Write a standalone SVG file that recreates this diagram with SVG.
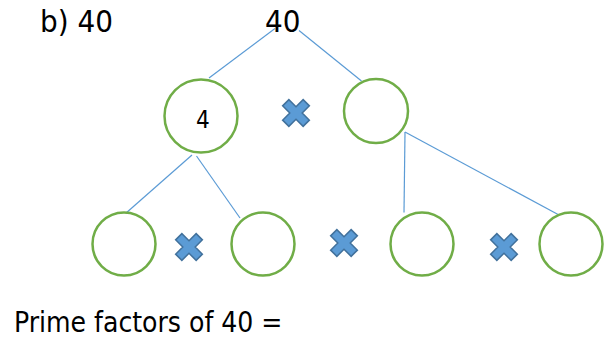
<svg xmlns="http://www.w3.org/2000/svg" width="605" height="339" viewBox="0 0 605 339">
  <style>
    .txt { font-family: "DejaVu Sans Condensed", "DejaVu Sans", sans-serif; fill: #000; }
    .node { fill: #fff; stroke: #70AD47; stroke-width: 2.5; }
    .edge { stroke: #5B9BD5; stroke-width: 1.2; fill: none; }
    .times { fill: #5B9BD5; stroke: #41719C; stroke-width: 1.5; stroke-linejoin: miter; }
  </style>
  <defs>
    <!-- multiplication sign: a plus rotated 45 degrees -->
    <polygon id="mul" transform="rotate(45)" points="-4.4,-14.5 4.4,-14.5 4.4,-4.4 14.5,-4.4 14.5,4.4 4.4,4.4 4.4,14.5 -4.4,14.5 -4.4,4.4 -14.5,4.4 -14.5,-4.4 -4.4,-4.4"/>
  </defs>

  <rect width="605" height="339" fill="#fff"/>

  <text class="txt" x="40" y="32" font-size="31">b) 40</text>

  <g id="connectors">
    <line class="edge" x1="275" y1="28.5" x2="209" y2="78"/>
    <line class="edge" x1="299" y1="30.5" x2="361.5" y2="81"/>
    <line class="edge" x1="192" y1="155" x2="125.5" y2="213.5"/>
    <line class="edge" x1="196.5" y1="156" x2="240" y2="218"/>
    <line class="edge" x1="405" y1="132" x2="404" y2="212.5"/>
    <line class="edge" x1="405" y1="132" x2="559" y2="215"/>
  </g>

  <g id="root">
    <text class="txt" x="265" y="32" font-size="31">40</text>
  </g>

  <g id="n-left">
    <circle class="node" cx="201" cy="116" r="36.5"/>
    <text class="txt" x="196" y="127.5" font-size="24">4</text>
  </g>
  <g id="n-right">
    <circle class="node" cx="376" cy="111" r="32"/>
  </g>
  <g id="n-ll">
    <circle class="node" cx="124" cy="244" r="31.5"/>
  </g>
  <g id="n-lr">
    <circle class="node" cx="263" cy="244" r="31.5"/>
  </g>
  <g id="n-rl">
    <circle class="node" cx="422" cy="244" r="31.5"/>
  </g>
  <g id="n-rr">
    <circle class="node" cx="571" cy="244" r="31.5"/>
  </g>

  <g id="times-signs">
    <use href="#mul" class="times" x="296" y="113"/>
    <use href="#mul" class="times" x="189" y="247"/>
    <use href="#mul" class="times" x="344" y="243"/>
    <use href="#mul" class="times" x="504" y="247"/>
  </g>

  <text class="txt" x="14" y="332" font-size="28">Prime factors of 40 =</text>
</svg>
